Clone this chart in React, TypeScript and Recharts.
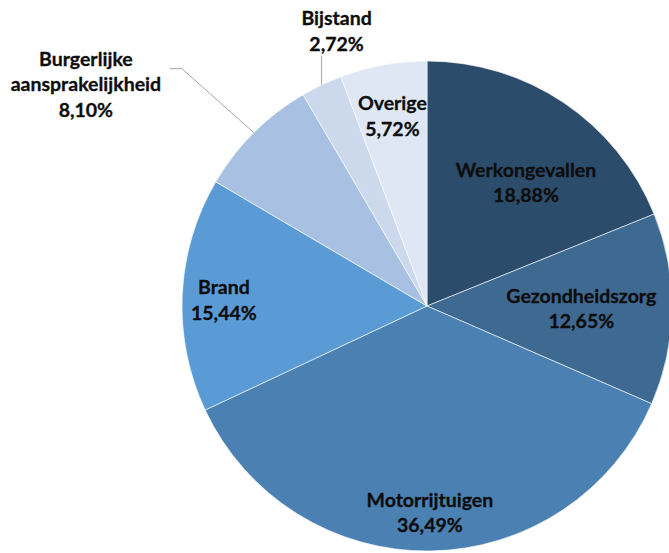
import React from 'react';
import { PieChart, Pie, Cell } from 'recharts';

const categories = ['Werkongevallen', 'Gezondheidszorg', 'Motorrijtuigen', 'Brand', 'Burgerlijke aansprakelijkheid', 'Bijstand', 'Overige'];
const shares = [18.88, 12.65, 36.49, 15.44, 8.10, 2.72, 5.72];
const labelLines = [
  ['Werkongevallen'],
  ['Gezondheidszorg'],
  ['Motorrijtuigen'],
  ['Brand'],
  ['Burgerlijke', 'aansprakelijkheid'],
  ['Bijstand'],
  ['Overige'],
];

const colors = ['#2B4C6B', '#3E6991', '#4A80B2', '#5B9BD5', '#A8C1E2', '#CCD9ED', '#E0E7F4'];

// label placement styles (radius fraction + nudge), not data
const labelStyle: { r: number; dx: number; dy: number; outside?: string }[] = [
  { r: 0.65, dx: 10, dy: 8 },
  { r: 0.63, dx: 0, dy: 0 },
  { r: 0.84, dx: 0, dy: 0 },
  { r: 0.83, dx: 0, dy: 3 },
  { r: 1, dx: 0, dy: 0, outside: 'bu' },
  { r: 1, dx: 0, dy: 0, outside: 'bi' },
  { r: 0.79, dx: 0, dy: 0 },
];

const data = categories.map((name, i) => ({ name, value: shares[i], lines: labelLines[i] }));

const RAD = Math.PI / 180;
const FONT = 'Lato, "Open Sans", sans-serif';
const FS = 19.5;
const LH = 25.5;

const fmt = (v: number) => v.toFixed(2).replace('.', ',') + '%';

const TextBlock = ({ x, top, lines }: { x: number; top: number; lines: string[] }) => (
  <text x={x} y={top} textAnchor="middle" fontFamily={FONT} fontWeight="bold" fontSize={FS} fill="#0D0D0D" stroke="#0D0D0D" strokeWidth={0.3}>
    {lines.map((l, k) => (
      <tspan key={k} x={x} dy={k === 0 ? 0 : LH} dominantBaseline="central">{l}</tspan>
    ))}
  </text>
);

const renderLabel = (props: any) => {
  const { cx, cy, midAngle, outerRadius, index } = props;
  const st = labelStyle[index];
  const d = data[index];
  const lines = [...d.lines, fmt(d.value)];
  const ex = cx + outerRadius * Math.cos(-midAngle * RAD);
  const ey = cy + outerRadius * Math.sin(-midAngle * RAD);
  if (st.outside === 'bu') {
    const tx = ex - 168;
    const ty = ey - 49;
    return (
      <g key={`l${index}`}>
        <polyline points={`${ex},${ey} ${ex - 72},${ey - 64} ${ex - 84},${ey - 64}`} fill="none" stroke="#A6A6A6" strokeWidth={1} />
        <TextBlock x={tx} top={ty - LH} lines={lines} />
      </g>
    );
  }
  if (st.outside === 'bi') {
    const tx = ex + 15;
    const ty = ey - 54.5;
    return (
      <g key={`l${index}`}>
        <line x1={ex} y1={ey} x2={ex} y2={ey - 29} stroke="#A6A6A6" strokeWidth={1} />
        <TextBlock x={tx} top={ty - LH / 2} lines={lines} />
      </g>
    );
  }
  const r = outerRadius * st.r;
  const x = cx + r * Math.cos(-midAngle * RAD) + st.dx;
  const y = cy + r * Math.sin(-midAngle * RAD) + st.dy;
  const top = y - ((lines.length - 1) * LH) / 2;
  return (
    <g key={`l${index}`}>
      <TextBlock x={x} top={top} lines={lines} />
    </g>
  );
};

export default function App() {
  return (
    <div style={{ position: 'absolute', left: 0, top: 0, width: 669, height: 553, background: '#fff' }}>
      <PieChart width={669} height={553} margin={{ top: 0, right: 0, bottom: 0, left: 0 }}>
        <Pie
          data={data}
          dataKey="value"
          nameKey="name"
          cx={427}
          cy={306}
          outerRadius={245}
          startAngle={90}
          endAngle={-270}
          stroke="#ffffff"
          strokeOpacity={0.6}
          strokeWidth={1}
          isAnimationActive={false}
          label={renderLabel}
          labelLine={false}
        >
          {data.map((d, i) => (
            <Cell key={d.name} fill={colors[i]} />
          ))}
        </Pie>
      </PieChart>
    </div>
  );
}
